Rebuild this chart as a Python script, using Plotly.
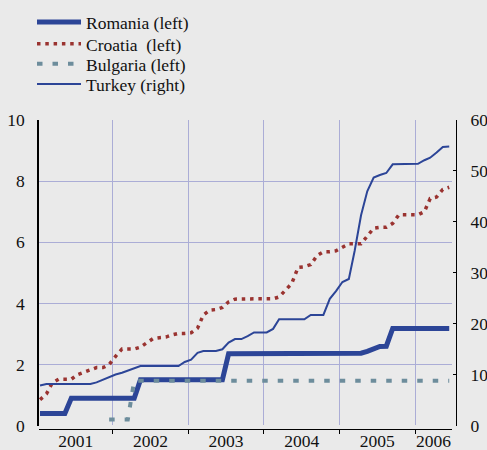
import pandas as pd
import plotly.graph_objects as go

# ---------------- data (monthly, Jan 2001 - Jun 2006) ----------------
months = [f"{2001 + m // 12}-{m % 12 + 1:02d}-15" for m in range(66)]

romania = ([0.4] * 5 + [0.9] * 11 + [1.5] * 14 + [2.35] * 21 +
           [2.37, 2.43, 2.52, 2.59, 2.6] + [3.18] * 10)

croatia = [0.85, 1.04, 1.40, 1.52, 1.52, 1.52, 1.67, 1.74, 1.82, 1.90,
           1.90, 2.00, 2.27, 2.51, 2.51, 2.51, 2.57, 2.70, 2.85, 2.88,
           2.90, 2.97, 3.02, 3.02, 3.04, 3.19, 3.62, 3.78, 3.80, 3.87,
           4.05, 4.14, 4.15, 4.15, 4.15, 4.15, 4.15, 4.15, 4.21, 4.42,
           4.65, 5.18, 5.20, 5.27, 5.57, 5.69, 5.69, 5.72, 5.85, 5.95,
           5.95, 5.95, 6.20, 6.46, 6.49, 6.49, 6.62, 6.90, 6.90, 6.90,
           6.90, 7.00, 7.43, 7.48, 7.73, 7.80]

bulgaria = [None] * 11 + [0.2] * 4 + [1.47] * 51

turkey = [7.9, 8.2, 8.2, 8.2, 8.2, 8.2, 8.2, 8.2, 8.2, 8.5,
          9.06, 9.6, 10.05, 10.4, 10.8, 11.4, 11.7, 11.7, 11.7, 11.7,
          11.7, 11.7, 11.7, 12.5, 12.95, 14.3, 14.65, 14.65, 14.65, 15.0,
          16.3, 17.0, 17.0, 17.6, 18.3, 18.3, 18.3, 19.0, 20.9, 20.9,
          20.9, 20.9, 20.9, 21.75, 21.75, 21.75, 24.9, 26.4, 28.2, 28.8,
          34.3, 41.3, 46.0, 48.7, 49.2, 49.6, 51.3, 51.3, 51.3, 51.3,
          51.4, 52.1, 52.6, 53.6, 54.7, 54.8]

years = ["2001", "2002", "2003", "2004", "2005", "2006"]
left_ticks = [0, 2, 4, 6, 8, 10]
right_ticks = [0, 10, 20, 30, 40, 50, 60]

names = ["Romania (left)", "Croatia  (left)", "Bulgaria (left)", "Turkey (right)"]

# ---------------- style ----------------
BG = "#eaeaea"
GRID = "#abadd6"
NAVY = "#2c4597"
RED = "#9a3330"
GREY = "#6d8d9c"
FONT = "Liberation Serif"
FS = 17.5

x_start = pd.Timestamp("2001-01-10")
x_end = pd.Timestamp("2006-06-27")

# year label positions: middle of the visible part of each year
mids = []
for y in years:
    a = max(pd.Timestamp(f"{y}-01-01"), x_start)
    b = min(pd.Timestamp(f"{int(y) + 1}-01-01"), x_end)
    mids.append(a + (b - a) / 2)
boundaries = [f"{y}-01-01" for y in years[1:]]

fig = go.Figure()
fig.add_trace(go.Scatter(x=months, y=romania, name=names[0], mode="lines",
                         line=dict(color=NAVY, width=5), legend="legend"))
fig.add_trace(go.Scatter(x=months, y=croatia, name=names[1], mode="lines",
                         line=dict(color=RED, width=3.5, dash="3.5px,4.8px"),
                         legend="legend2"))
fig.add_trace(go.Scatter(x=months, y=bulgaria, name=names[2], mode="lines",
                         line=dict(color=GREY, width=4, dash="5.5px,10px"),
                         legend="legend3"))
fig.add_trace(go.Scatter(x=months, y=turkey, name=names[3], mode="lines",
                         line=dict(color=NAVY, width=2), yaxis="y2",
                         legend="legend4"))

legend_common = dict(xref="container", yref="container", x=32 / 487,
                     xanchor="left", yanchor="middle", bgcolor="rgba(0,0,0,0)",
                     font=dict(family=FONT, size=FS, color="#111"),
                     itemwidth=44)
leg_y = [22.2, 43.8, 63.8, 84.0]

W, H = 487, 450
fig.update_layout(
    width=W, height=H,
    margin=dict(l=39, r=31, t=120, b=21, autoexpand=False),
    paper_bgcolor=BG, plot_bgcolor=BG,
    showlegend=True,
    legend=dict(legend_common, y=1 - leg_y[0] / H),
    legend2=dict(legend_common, y=1 - leg_y[1] / H),
    legend3=dict(legend_common, y=1 - leg_y[2] / H),
    legend4=dict(legend_common, y=1 - leg_y[3] / H),
    xaxis=dict(
        type="date", domain=[0, 412.7 / 417], range=[x_start, x_end],
        anchor="free", position=0, automargin=False,
        tickmode="array", tickvals=mids, ticktext=years, ticks="",
        tickangle=0,
        showgrid=False, zeroline=False,
        showline=True, linecolor="black", linewidth=1.2,
        tickfont=dict(family=FONT, size=FS, color="#111"),
        ticklabelstandoff=-4,
        minor=dict(tickmode="array", tickvals=boundaries, ticks="outside",
                   ticklen=4, tickcolor="black", tickwidth=1.2,
                   showgrid=True, gridcolor=GRID, gridwidth=1),
    ),
    yaxis=dict(
        domain=[3.3 / 309, 1], range=[0, 10], automargin=False,
        tickmode="array", tickvals=left_ticks, ticks="",
        showgrid=True, gridcolor=GRID, gridwidth=1,
        zeroline=True, zerolinecolor=BG,
        showline=True, linecolor="black", linewidth=1.5,
        tickfont=dict(family=FONT, size=FS, color="#111"),
        ticklabelstandoff=9,
    ),
    yaxis2=dict(
        overlaying="y", side="right", anchor="free", position=1,
        automargin=False,
        range=[0, 60], tickmode="array", tickvals=right_ticks,
        ticks="inside", ticklen=3, tickcolor="black", tickwidth=1.2,
        showgrid=False, zeroline=False,
        showline=True, linecolor="black", linewidth=1.2,
        tickfont=dict(family=FONT, size=FS, color="#111"),
        ticklabelstandoff=10,
    ),
)

fig.write_html("out.html",
               config={"displayModeBar": False},
               post_script="document.body.style.margin='0';"
                           "document.body.style.overflow='hidden';")
